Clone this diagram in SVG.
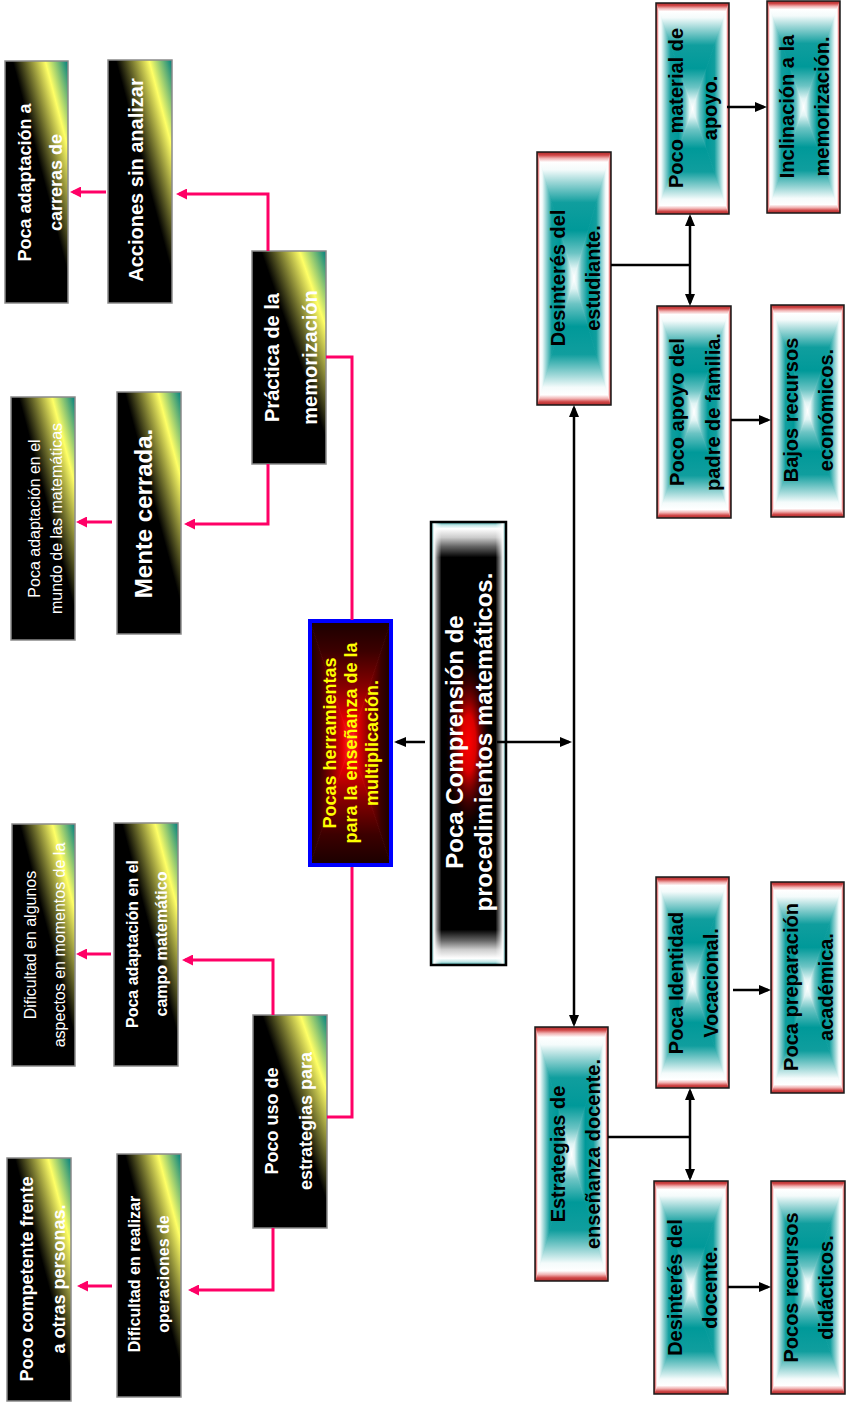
<svg xmlns="http://www.w3.org/2000/svg" xmlns:xlink="http://www.w3.org/1999/xlink" width="846" height="1403" viewBox="0 0 846 1403">
<style>
.t{font-family:"Liberation Sans",Arial,sans-serif;font-weight:bold;text-anchor:middle}
.w{fill:#fff}
.k{fill:#000}
.y{fill:#ff0}
.n{font-weight:normal}
.gy{fill:url(#gy);stroke:#8a8a8a;stroke-width:1.5}
.tb{fill:none;stroke:#1a1a1a;stroke-width:1.5}
.pk{fill:none;stroke:#ff0066;stroke-width:3}
.pa{marker-end:url(#mp)}
.bk{fill:none;stroke:#000;stroke-width:2.5}
.ba{marker-end:url(#mk)}
.bb{marker-start:url(#mk);marker-end:url(#mk)}
</style>
<defs>
<linearGradient id="gy" x1="0" y1="1" x2="1" y2="0">
<stop offset="0" stop-color="#000"/>
<stop offset="0.56" stop-color="#000"/>
<stop offset="0.82" stop-color="#ffff66"/>
<stop offset="1" stop-color="#008080"/>
</linearGradient>
<linearGradient id="tS">
<stop offset="0" stop-color="#b02a2a"/>
<stop offset="0.025" stop-color="#d04848"/>
<stop offset="0.05" stop-color="#f0b0b0"/>
<stop offset="0.08" stop-color="#ffffff"/>
<stop offset="0.14" stop-color="#f4fbfb"/>
<stop offset="0.24" stop-color="#9bd6d6"/>
<stop offset="0.4" stop-color="#109e9e"/>
<stop offset="0.62" stop-color="#009999"/>
<stop offset="0.8" stop-color="#6cc4c4"/>
<stop offset="0.92" stop-color="#e0f4f4"/>
<stop offset="1" stop-color="#ffffff"/>
</linearGradient>
<linearGradient id="tT" xlink:href="#tS" x1="0" y1="0" x2="0" y2="1"/>
<linearGradient id="tB" xlink:href="#tS" x1="0" y1="1" x2="0" y2="0"/>
<linearGradient id="tL" xlink:href="#tS" x1="0" y1="0" x2="1" y2="0"/>
<linearGradient id="tR" xlink:href="#tS" x1="1" y1="0" x2="0" y2="0"/>
<linearGradient id="rS">
<stop offset="0" stop-color="#1a0000"/>
<stop offset="0.25" stop-color="#3c0000"/>
<stop offset="0.55" stop-color="#8a0000"/>
<stop offset="0.8" stop-color="#e00000"/>
<stop offset="1" stop-color="#ff2a2a"/>
</linearGradient>
<linearGradient id="rT" xlink:href="#rS" x1="0" y1="0" x2="0" y2="1"/>
<linearGradient id="rB" xlink:href="#rS" x1="0" y1="1" x2="0" y2="0"/>
<linearGradient id="rL" xlink:href="#rS" x1="0" y1="0" x2="1" y2="0"/>
<linearGradient id="rR" xlink:href="#rS" x1="1" y1="0" x2="0" y2="0"/>
<symbol id="tealBox" viewBox="0 0 100 100" preserveAspectRatio="none">
<polygon points="0,0 100,0 50,50" fill="url(#tT)" stroke="url(#tT)" stroke-width="0.8" vector-effect="non-scaling-stroke"/>
<polygon points="0,100 100,100 50,50" fill="url(#tB)" stroke="url(#tB)" stroke-width="0.8" vector-effect="non-scaling-stroke"/>
<polygon points="0,0 0,100 50,50" fill="url(#tL)" stroke="url(#tL)" stroke-width="0.8" vector-effect="non-scaling-stroke"/>
<polygon points="100,0 100,100 50,50" fill="url(#tR)" stroke="url(#tR)" stroke-width="0.8" vector-effect="non-scaling-stroke"/>
</symbol>
<symbol id="redBox" viewBox="0 0 100 100" preserveAspectRatio="none">
<polygon points="0,0 100,0 50,50" fill="url(#rT)" stroke="url(#rT)" stroke-width="0.8" vector-effect="non-scaling-stroke"/>
<polygon points="0,100 100,100 50,50" fill="url(#rB)" stroke="url(#rB)" stroke-width="0.8" vector-effect="non-scaling-stroke"/>
<polygon points="0,0 0,100 50,50" fill="url(#rL)" stroke="url(#rL)" stroke-width="0.8" vector-effect="non-scaling-stroke"/>
<polygon points="100,0 100,100 50,50" fill="url(#rR)" stroke="url(#rR)" stroke-width="0.8" vector-effect="non-scaling-stroke"/>
</symbol>
<linearGradient id="mV" x1="0" y1="0" x2="0" y2="1">
<stop offset="0" stop-color="#2a9a9a"/>
<stop offset="0.007" stop-color="#bfe5e5"/>
<stop offset="0.015" stop-color="#ffffff"/>
<stop offset="0.035" stop-color="#cccccc"/>
<stop offset="0.055" stop-color="#666666"/>
<stop offset="0.08" stop-color="#000000"/>
<stop offset="0.92" stop-color="#000000"/>
<stop offset="0.945" stop-color="#666666"/>
<stop offset="0.965" stop-color="#cccccc"/>
<stop offset="0.985" stop-color="#ffffff"/>
<stop offset="0.993" stop-color="#bfe5e5"/>
<stop offset="1" stop-color="#2a9a9a"/>
</linearGradient>
<linearGradient id="mH" x1="0" y1="0" x2="1" y2="0">
<stop offset="0" stop-color="#2a9a9a"/>
<stop offset="0.04" stop-color="#ffffff"/>
<stop offset="0.08" stop-color="#ffffff" stop-opacity="0.5"/>
<stop offset="0.14" stop-color="#ffffff" stop-opacity="0"/>
<stop offset="0.86" stop-color="#ffffff" stop-opacity="0"/>
<stop offset="0.92" stop-color="#ffffff" stop-opacity="0.5"/>
<stop offset="0.96" stop-color="#ffffff"/>
<stop offset="1" stop-color="#2a9a9a"/>
</linearGradient>
<radialGradient id="glow">
<stop offset="0" stop-color="#ff0000"/>
<stop offset="0.3" stop-color="#ff0000" stop-opacity="0.85"/>
<stop offset="0.6" stop-color="#900000" stop-opacity="0.5"/>
<stop offset="1" stop-color="#000000" stop-opacity="0"/>
</radialGradient>
<marker id="mk" markerUnits="userSpaceOnUse" viewBox="0 0 12 10" markerWidth="12" markerHeight="10" refX="9" refY="5" orient="auto-start-reverse">
<path d="M0,0 L12,5 L0,10 z" fill="#000"/>
</marker>
<marker id="mp" markerUnits="userSpaceOnUse" viewBox="0 0 11 11" markerWidth="11" markerHeight="11" refX="8" refY="5.5" orient="auto">
<path d="M0,0 L11,5.5 L0,11 z" fill="#ff0066"/>
</marker>
</defs>
<rect width="846" height="1403" fill="#fff"/>

<g id="n1"><rect class="gy" x="5" y="61" width="63" height="242"/>
<text class="t w" font-size="18" transform="translate(31,182.5) rotate(-90)"><tspan x="0">Poca adaptación a</tspan><tspan x="0" dy="31">carreras de</tspan></text></g>
<g id="n2"><rect class="gy" x="108" y="60" width="64" height="243"/>
<text class="t w" font-size="20" transform="translate(143,180) rotate(-90)">Acciones sin analizar</text></g>
<g id="n3"><rect class="gy" x="252" y="251" width="74" height="213"/>
<text class="t w" font-size="20" transform="translate(279,357.5) rotate(-90)"><tspan x="0">Práctica de la</tspan><tspan x="0" dy="38">memorización</tspan></text></g>
<g id="n4"><rect class="gy" x="11" y="397" width="64" height="243"/>
<text class="t w n" font-size="16" transform="translate(40,518.5) rotate(-90)"><tspan x="0">Poca adaptación en el</tspan><tspan x="0" dy="21.5">mundo de las matemáticas</tspan></text></g>
<g id="n5"><rect class="gy" x="117" y="392" width="64" height="242"/>
<text class="t w" font-size="24" transform="translate(152,513.5) rotate(-90)">Mente cerrada.</text></g>
<g id="n8"><rect class="gy" x="12" y="824" width="63" height="242"/>
<text class="t w n" font-size="16" transform="translate(35.5,945) rotate(-90)"><tspan x="0">Dificultad en algunos</tspan><tspan x="0" dy="29.5">aspectos en momentos de la</tspan></text></g>
<g id="n9"><rect class="gy" x="114" y="823" width="64" height="243"/>
<text class="t w" font-size="16" transform="translate(137.5,944) rotate(-90)"><tspan x="0">Poca adaptación en el</tspan><tspan x="0" dy="29">campo matemático</tspan></text></g>
<g id="n10"><rect class="gy" x="253" y="1015" width="74" height="213"/>
<text class="t w" font-size="18" transform="translate(278,1121) rotate(-90)"><tspan x="0">Poco uso de</tspan><tspan x="0" dy="33.5">estrategias para</tspan></text></g>
<g id="n11"><rect class="gy" x="7" y="1158" width="64" height="243"/>
<text class="t w" font-size="18" transform="translate(33,1279) rotate(-90)"><tspan x="0">Poco competente frente</tspan><tspan x="0" dy="32">a otras personas.</tspan></text></g>
<g id="n12"><rect class="gy" x="117" y="1154" width="64" height="243"/>
<text class="t w" font-size="16" transform="translate(140,1274) rotate(-90)"><tspan x="0">Dificultad en realizar</tspan><tspan x="0" dy="28.5">operaciones de</tspan></text></g>

<g id="n6"><use xlink:href="#redBox" x="310" y="621" width="81" height="244"/>
<rect x="310" y="621" width="81" height="244" fill="none" stroke="#0000ff" stroke-width="4"/>
<text class="t y" font-size="18" transform="translate(336,743) rotate(-90)"><tspan x="0">Pocas herramientas</tspan><tspan x="0" dy="21">para la enseñanza de la</tspan><tspan x="0" dy="21">multiplicación.</tspan></text></g>

<g id="n7"><rect x="431" y="522" width="75" height="443" fill="url(#mV)"/>
<rect x="431" y="522" width="75" height="443" fill="url(#mH)"/>
<ellipse cx="468.5" cy="743.5" rx="24" ry="95" fill="url(#glow)"/>
<rect x="431" y="522" width="75" height="443" fill="none" stroke="#000" stroke-width="2.5"/>
<text class="t w" font-size="24" transform="translate(463,742) rotate(-90)"><tspan x="0">Poca Comprensión de</tspan><tspan x="0" dy="29">procedimientos matemáticos.</tspan></text></g>

<g id="n13"><use xlink:href="#tealBox" x="537" y="152" width="74" height="253"/><rect class="tb" x="537" y="152" width="74" height="253"/>
<text class="t k" font-size="20" transform="translate(564.5,278) rotate(-90)"><tspan x="0">Desinterés del</tspan><tspan x="0" dy="35">estudiante.</tspan></text></g>
<g id="n14"><use xlink:href="#tealBox" x="656" y="3" width="73" height="211"/><rect class="tb" x="656" y="3" width="73" height="211"/>
<text class="t k" font-size="20" transform="translate(682.5,108) rotate(-90)"><tspan x="0">Poco material de</tspan><tspan x="0" dy="34.5">apoyo.</tspan></text></g>
<g id="n15"><use xlink:href="#tealBox" x="767" y="1" width="73" height="212"/><rect class="tb" x="767" y="1" width="73" height="212"/>
<text class="t k" font-size="20" transform="translate(793.5,106.5) rotate(-90)"><tspan x="0">Inclinación a la</tspan><tspan x="0" dy="35">memorización.</tspan></text></g>
<g id="n16"><use xlink:href="#tealBox" x="657" y="306" width="74" height="212"/><rect class="tb" x="657" y="306" width="74" height="212"/>
<text class="t k" font-size="20" transform="translate(684.3,412) rotate(-90)"><tspan x="0">Poco apoyo del</tspan><tspan x="0" dy="35.5">padre de familia.</tspan></text></g>
<g id="n17"><use xlink:href="#tealBox" x="771" y="305" width="73" height="212"/><rect class="tb" x="771" y="305" width="73" height="212"/>
<text class="t k" font-size="20" transform="translate(797.5,410) rotate(-90)"><tspan x="0">Bajos recursos</tspan><tspan x="0" dy="35">económicos.</tspan></text></g>
<g id="n18"><use xlink:href="#tealBox" x="656" y="877" width="73" height="211"/><rect class="tb" x="656" y="877" width="73" height="211"/>
<text class="t k" font-size="20" transform="translate(682.6,983) rotate(-90)"><tspan x="0">Poca Identidad</tspan><tspan x="0" dy="35">Vocacional.</tspan></text></g>
<g id="n19"><use xlink:href="#tealBox" x="771" y="882" width="73" height="211"/><rect class="tb" x="771" y="882" width="73" height="211"/>
<text class="t k" font-size="20" transform="translate(797.5,987) rotate(-90)"><tspan x="0">Poca preparación</tspan><tspan x="0" dy="35">académica.</tspan></text></g>
<g id="n20"><use xlink:href="#tealBox" x="535" y="1027" width="73" height="254"/><rect class="tb" x="535" y="1027" width="73" height="254"/>
<text class="t k" font-size="20" transform="translate(564.5,1154) rotate(-90)"><tspan x="0">Estrategias de</tspan><tspan x="0" dy="35">enseñanza docente.</tspan></text></g>
<g id="n21"><use xlink:href="#tealBox" x="654" y="1181" width="74" height="213"/><rect class="tb" x="654" y="1181" width="74" height="213"/>
<text class="t k" font-size="20" transform="translate(682,1287.5) rotate(-90)"><tspan x="0">Desinterés del</tspan><tspan x="0" dy="35">docente.</tspan></text></g>
<g id="n22"><use xlink:href="#tealBox" x="771" y="1181" width="74" height="213"/><rect class="tb" x="771" y="1181" width="74" height="213"/>
<text class="t k" font-size="20" transform="translate(797.5,1287.5) rotate(-90)"><tspan x="0">Pocos recursos</tspan><tspan x="0" dy="35">didácticos.</tspan></text></g>

<g id="connectors">
<path class="pk" d="M352,620 V357 H326"/>
<path class="pk" d="M352,867 V1117 H327"/>
<path class="pk pa" d="M268,251 V194 H179"/>
<path class="pk pa" d="M268,464 V524 H187"/>
<path class="pk pa" d="M106,192 H73"/>
<path class="pk pa" d="M112,522 H79"/>
<path class="pk pa" d="M273,1015 V960 H185"/>
<path class="pk pa" d="M111,954 H79"/>
<path class="pk pa" d="M273,1228 V1290 H191"/>
<path class="pk pa" d="M112,1286 H80"/>
<path class="bk ba" d="M425,742 H397"/>
<path class="bk ba" d="M497,742 H569"/>
<path class="bk bb" d="M574,408 V1024"/>
<path class="bk" d="M611,265 H690"/>
<path class="bk bb" d="M690,217 V303"/>
<path class="bk ba" d="M727,107 H764"/>
<path class="bk ba" d="M731,420 H768"/>
<path class="bk ba" d="M733,990 H768"/>
<path class="bk" d="M608,1137 H690"/>
<path class="bk bb" d="M690,1091 V1178"/>
<path class="bk ba" d="M728,1287 H768"/>
</g>
</svg>
